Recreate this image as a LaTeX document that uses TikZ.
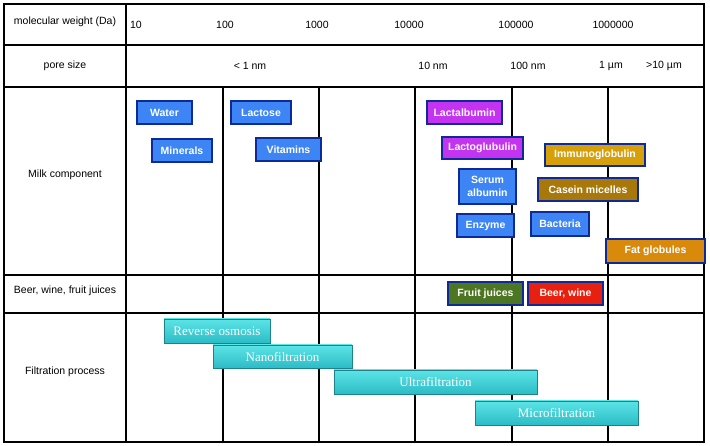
\documentclass[tikz,border=0pt]{standalone}
\usepackage{fontspec}
\setmainfont{Liberation Sans}
\newfontfamily\serifbar{Liberation Serif}
\definecolor{mblue}{RGB}{61,133,245}
\definecolor{mpurple}{RGB}{196,52,240}
\definecolor{mgold}{RGB}{214,160,10}
\definecolor{mbrown}{RGB}{168,120,10}
\definecolor{morange}{RGB}{218,138,10}
\definecolor{mgreen}{RGB}{76,118,34}
\definecolor{mred}{RGB}{232,32,16}
\definecolor{mborder}{RGB}{14,42,150}
\definecolor{cyantop}{RGB}{92,228,230}
\definecolor{cyanbot}{RGB}{44,188,198}
\definecolor{cyanedge}{RGB}{30,130,140}
\begin{document}
\begin{tikzpicture}[x=1pt,y=-1pt,
  lbl/.style={font=\fontsize{10.5}{12}\selectfont, inner sep=0pt},
  comp/.style={draw=mborder, line width=1.8pt, text=white, inner sep=0pt,
    font=\fontsize{10.5}{12}\selectfont\bfseries, align=center},
  fbar/.style={draw=cyanedge, line width=0.7pt, top color=cyantop, bottom color=cyanbot,
    text=white, inner sep=0pt, font=\serifbar\fontsize{13}{15}\selectfont},
  grid/.style={line width=1.6pt, black},
]
\useasboundingbox (0,0) rectangle (710,446);
% grid
\draw[line width=2pt] (4,4) rectangle (704,442);
\draw[grid] (4,45) -- (704,45);
\draw[grid] (4,87) -- (704,87);
\draw[grid] (4,275) -- (704,275);
\draw[grid] (4,313) -- (704,313);
\draw[grid] (126,4) -- (126,442);
\foreach \x in {223,319,415,512,608} \draw[grid] (\x,87) -- (\x,442);
% row labels
\node[lbl] (mw) at (65,22) {molecular weight (Da)};
\node[lbl] (ps) at (65,66) {pore size};
\node[lbl] (mc) at (65,175) {Milk component};
\node[lbl] (bw) at (65,291) {Beer, wine, fruit juices};
\node[lbl] (fp) at (65,372) {Filtration process};
% molecular weights
\node[lbl] (w1) at (136,25) {10};
\node[lbl] (w2) at (225,25) {100};
\node[lbl] (w3) at (317,25) {1000};
\node[lbl] (w4) at (409,25) {10000};
\node[lbl] (w5) at (516,25) {100000};
\node[lbl] (w6) at (613,25) {1000000};
% pore sizes
\node[lbl] (p1) at (250,66) {< 1 nm};
\node[lbl] (p2) at (433,66) {10 nm};
\node[lbl] (p3) at (528,66) {100 nm};
\node[lbl] (p4) at (611,66) {1 µm};
\node[lbl] (p5) at (664,66) {>10 µm};
% milk components
\node[comp, fill=mblue, minimum width=55, minimum height=23] (water) at (164.5,112.5) {Water};
\node[comp, fill=mblue, minimum width=60, minimum height=23] (lactose) at (261,112.5) {Lactose};
\node[comp, fill=mblue, minimum width=60, minimum height=23] (minerals) at (182,150.5) {Minerals};
\node[comp, fill=mblue, minimum width=65, minimum height=23] (vitamins) at (288.5,149.5) {Vitamins};
\node[comp, fill=mpurple, minimum width=75, minimum height=23] (lactalb) at (464.5,112.5) {Lactalbumin};
\node[comp, fill=mpurple, minimum width=81, minimum height=22] (lactoglob) at (482.5,148) {Lactoglubulin};
\node[comp, fill=mgold, minimum width=100, minimum height=22] (immuno) at (595,155) {Immunoglobulin};
\node[comp, fill=mblue, minimum width=57, minimum height=35, font=\fontsize{10.5}{13}\selectfont\bfseries] (serum) at (487.5,186.5) {Serum\\albumin};
\node[comp, fill=mbrown, minimum width=100, minimum height=23] (casein) at (588,189.5) {Casein micelles};
\node[comp, fill=mblue, minimum width=57, minimum height=23] (enzyme) at (485.5,225.5) {Enzyme};
\node[comp, fill=mblue, minimum width=58, minimum height=24] (bacteria) at (560,224) {Bacteria};
\node[comp, fill=morange, minimum width=99, minimum height=24] (fat) at (655.5,251) {Fat globules};
% beverages
\node[comp, fill=mgreen, minimum width=75, minimum height=23] (fruit) at (485.5,293.5) {Fruit juices};
\node[comp, fill=mred, minimum width=75, minimum height=23] (beer) at (565.5,293.5) {Beer, wine};
% filtration
\node[fbar, minimum width=106, minimum height=24] (ro) at (217,331) {Reverse osmosis};
\node[fbar, minimum width=139, minimum height=23] (nf) at (282.5,356.5) {Nanofiltration};
\node[fbar, minimum width=203, minimum height=24] (uf) at (435.5,382) {Ultrafiltration};
\node[fbar, minimum width=163, minimum height=24] (mf) at (556.5,413) {Microfiltration};
\end{tikzpicture}
\end{document}
